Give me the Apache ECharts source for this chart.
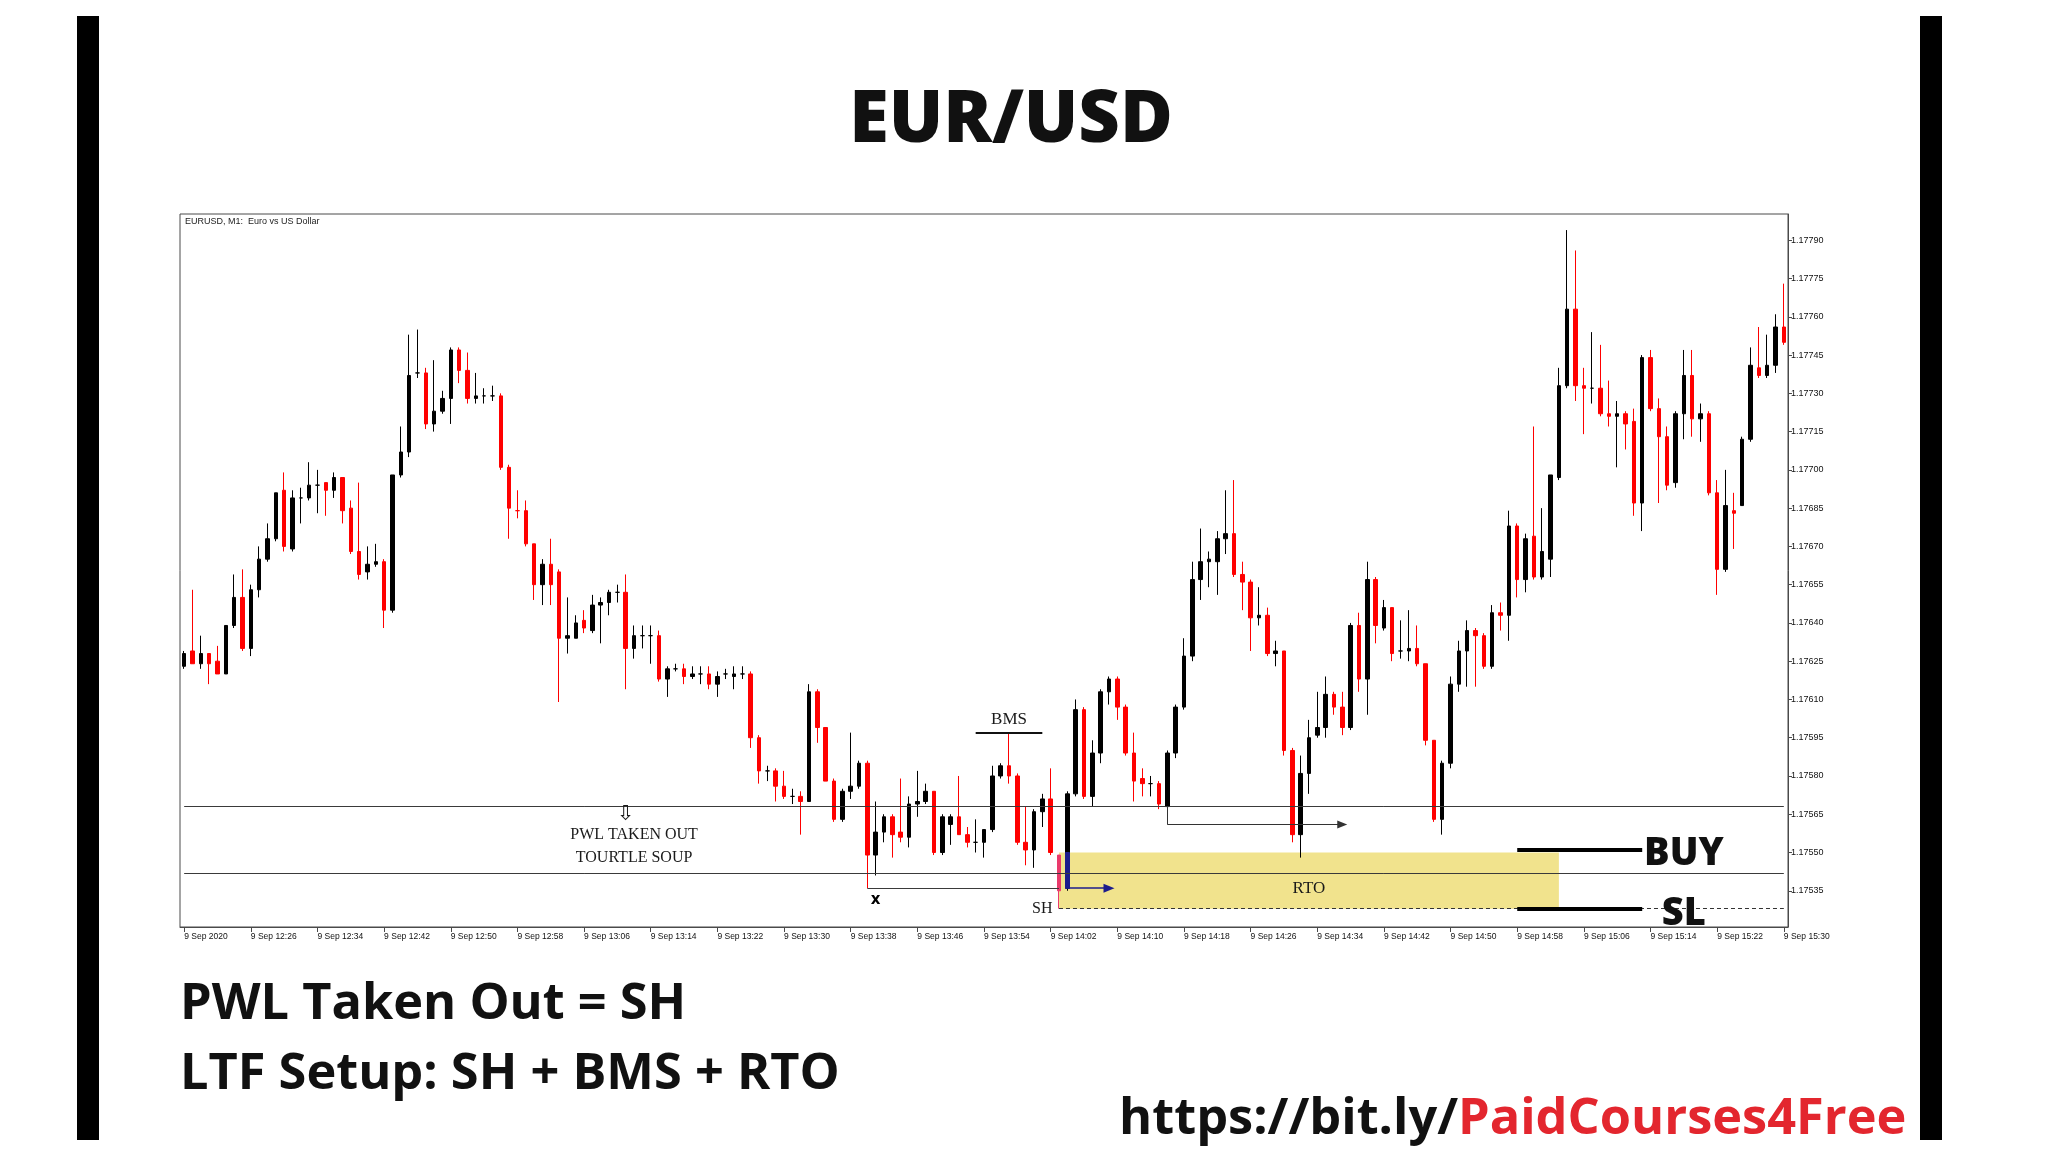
<!DOCTYPE html>
<html><head><meta charset="utf-8">
<script src="https://cdn.jsdelivr.net/npm/echarts@6/dist/echarts.min.js"></script>
<style>html,body{margin:0;padding:0;background:#fff}#c{width:2048px;height:1152px}</style>
</head><body><div id="c"></div>
<script>
// ---- categories: one-minute bars, 9 Sep 2020 12:18 .. 15:30
const times = [];
for (let m = 12 * 60 + 18; m <= 15 * 60 + 30; m++) {
  times.push(String(Math.floor(m / 60)).padStart(2, '0') + ':' + String(m % 60).padStart(2, '0'));
}
const xTickLabels = ['9 Sep 2020','9 Sep 12:26','9 Sep 12:34','9 Sep 12:42','9 Sep 12:50','9 Sep 12:58','9 Sep 13:06','9 Sep 13:14','9 Sep 13:22','9 Sep 13:30','9 Sep 13:38','9 Sep 13:46','9 Sep 13:54','9 Sep 14:02','9 Sep 14:10','9 Sep 14:18','9 Sep 14:26','9 Sep 14:34','9 Sep 14:42','9 Sep 14:50','9 Sep 14:58','9 Sep 15:06','9 Sep 15:14','9 Sep 15:22','9 Sep 15:30'];
const yTicks = [1.17535,1.17550,1.17565,1.17580,1.17595,1.17610,1.17625,1.17640,1.17655,1.17670,1.17685,1.17700,1.17715,1.17730,1.17745,1.17760,1.17775,1.17790];

const opens = [1.17623,1.17629,1.17624,1.17628,1.17625,1.17620,1.17639,1.17650,1.17630,1.17653,
1.17665,1.17673,1.17692,1.17669,1.17689,1.17689,1.17694,1.17695,1.17692,1.17697,
1.17685,1.17668,1.17660,1.17663,1.17664,1.17645,1.17698,1.17707,1.17738,1.17738,
1.17718,1.17723,1.17728,1.17747,1.17739,1.17728,1.17729,1.17729,1.17729,1.17701,
1.17684,1.17684,1.17671,1.17655,1.17663,1.17660,1.17634,1.17634,1.17641,1.17637,
1.17647,1.17648,1.17652,1.17652,1.17630,1.17635,1.17635,1.17635,1.17618,1.17622,
1.17622,1.17619,1.17620,1.17620,1.17616,1.17620,1.17619,1.17620,1.17620,1.17595,
1.17582,1.17582,1.17576,1.17572,1.17572,1.17570,1.17613,1.17599,1.17578,1.17563,
1.17574,1.17576,1.17585,1.17549,1.17558,1.17564,1.17558,1.17556,1.17569,1.17570,
1.17574,1.17550,1.17561,1.17564,1.17557,1.17554,1.17554,1.17559,1.17580,1.17584,
1.17580,1.17554,1.17551,1.17566,1.17571,1.17549,1.17536,1.17573,1.17606,1.17572,
1.17589,1.17613,1.17618,1.17607,1.17589,1.17579,1.17577,1.17577,1.17568,1.17589,
1.17607,1.17627,1.17657,1.17664,1.17664,1.17673,1.17675,1.17659,1.17656,1.17642,
1.17643,1.17628,1.17629,1.17590,1.17557,1.17581,1.17596,1.17599,1.17612,1.17607,
1.17599,1.17639,1.17618,1.17657,1.17638,1.17646,1.17629,1.17629,1.17630,1.17624,
1.17594,1.17563,1.17585,1.17616,1.17629,1.17637,1.17635,1.17623,1.17644,1.17643,
1.17678,1.17657,1.17674,1.17658,1.17665,1.17697,1.17733,1.17763,1.17733,1.17732,
1.17732,1.17722,1.17721,1.17722,1.17719,1.17687,1.17744,1.17724,1.17713,1.17695,
1.17722,1.17737,1.17720,1.17722,1.17691,1.17661,1.17684,1.17686,1.17712,1.17740,
1.17737,1.17741,1.17756];
const closes = [1.17628,1.17624,1.17628,1.17624,1.17620,1.17639,1.17650,1.17630,1.17653,1.17665,
1.17673,1.17691,1.17670,1.17689,1.17689,1.17694,1.17694,1.17692,1.17697,1.17684,
1.17668,1.17659,1.17663,1.17664,1.17645,1.17698,1.17707,1.17737,1.17738,1.17718,
1.17723,1.17728,1.17747,1.17739,1.17728,1.17729,1.17729,1.17729,1.17701,1.17685,
1.17684,1.17671,1.17655,1.17663,1.17655,1.17634,1.17635,1.17640,1.17638,1.17647,
1.17648,1.17652,1.17652,1.17630,1.17635,1.17635,1.17635,1.17618,1.17622,1.17622,
1.17619,1.17620,1.17620,1.17616,1.17619,1.17620,1.17620,1.17620,1.17595,1.17582,
1.17582,1.17576,1.17572,1.17572,1.17570,1.17613,1.17599,1.17578,1.17563,1.17574,
1.17576,1.17585,1.17549,1.17558,1.17564,1.17557,1.17556,1.17569,1.17570,1.17574,
1.17550,1.17564,1.17564,1.17557,1.17554,1.17554,1.17559,1.17580,1.17584,1.17580,
1.17554,1.17551,1.17566,1.17571,1.17550,1.17535,1.17573,1.17606,1.17572,1.17589,
1.17613,1.17618,1.17607,1.17589,1.17578,1.17577,1.17577,1.17569,1.17589,1.17607,
1.17627,1.17657,1.17664,1.17665,1.17673,1.17675,1.17659,1.17656,1.17642,1.17643,
1.17628,1.17629,1.17590,1.17557,1.17581,1.17595,1.17599,1.17612,1.17607,1.17599,
1.17639,1.17618,1.17657,1.17639,1.17646,1.17628,1.17629,1.17630,1.17624,1.17594,
1.17563,1.17585,1.17616,1.17629,1.17637,1.17635,1.17623,1.17644,1.17643,1.17678,
1.17657,1.17673,1.17658,1.17668,1.17698,1.17733,1.17763,1.17733,1.17732,1.17732,
1.17722,1.17721,1.17722,1.17718,1.17687,1.17744,1.17724,1.17713,1.17694,1.17722,
1.17737,1.17720,1.17722,1.17691,1.17661,1.17686,1.17683,1.17712,1.17741,1.17737,
1.17741,1.17756,1.17750];
const lows = [1.17622,1.17624,1.17622,1.17616,1.17620,1.17620,1.17638,1.17629,1.17627,1.17650,
1.17664,1.17672,1.17668,1.17668,1.17679,1.17688,1.17683,1.17682,1.17689,1.17679,
1.17667,1.17657,1.17657,1.17662,1.17638,1.17644,1.17697,1.17705,1.17736,1.17716,
1.17715,1.17722,1.17718,1.17734,1.17726,1.17726,1.17726,1.17727,1.17700,1.17673,
1.17681,1.17670,1.17649,1.17647,1.17647,1.17609,1.17628,1.17634,1.17636,1.17636,
1.17632,1.17643,1.17648,1.17614,1.17626,1.17630,1.17624,1.17617,1.17611,1.17621,
1.17616,1.17618,1.17616,1.17614,1.17611,1.17618,1.17614,1.17618,1.17591,1.17577,
1.17578,1.17570,1.17571,1.17569,1.17557,1.17570,1.17593,1.17578,1.17562,1.17562,
1.17571,1.17575,1.17536,1.17541,1.17554,1.17548,1.17554,1.17552,1.17564,1.17569,
1.17549,1.17549,1.17553,1.17557,1.17552,1.17550,1.17548,1.17558,1.17579,1.17577,
1.17553,1.17545,1.17544,1.17560,1.17549,1.17528,1.17535,1.17572,1.17571,1.17568,
1.17585,1.17608,1.17602,1.17588,1.17570,1.17572,1.17572,1.17567,1.17567,1.17587,
1.17606,1.17625,1.17649,1.17654,1.17651,1.17667,1.17658,1.17645,1.17629,1.17639,
1.17627,1.17623,1.17588,1.17554,1.17548,1.17573,1.17595,1.17595,1.17604,1.17596,
1.17598,1.17613,1.17604,1.17632,1.17637,1.17625,1.17626,1.17625,1.17623,1.17592,
1.17562,1.17557,1.17583,1.17613,1.17615,1.17615,1.17622,1.17622,1.17637,1.17633,
1.17650,1.17652,1.17657,1.17657,1.17658,1.17696,1.17732,1.17727,1.17714,1.17726,
1.17721,1.17717,1.17701,1.17708,1.17682,1.17676,1.17723,1.17687,1.17692,1.17693,
1.17712,1.17713,1.17711,1.17690,1.17651,1.17660,1.17669,1.17686,1.17711,1.17736,
1.17736,1.17738,1.17749];
const highs = [1.17629,1.17653,1.17635,1.17628,1.17631,1.17639,1.17659,1.17661,1.17655,1.17670,
1.17679,1.17691,1.17699,1.17692,1.17693,1.17703,1.17700,1.17695,1.17699,1.17697,
1.17688,1.17695,1.17670,1.17671,1.17665,1.17698,1.17717,1.17753,1.17755,1.17740,
1.17743,1.17731,1.17748,1.17748,1.17746,1.17738,1.17732,1.17733,1.17730,1.17702,
1.17692,1.17688,1.17671,1.17665,1.17673,1.17661,1.17650,1.17643,1.17645,1.17651,
1.17650,1.17653,1.17655,1.17659,1.17639,1.17639,1.17639,1.17637,1.17623,1.17624,
1.17624,1.17623,1.17623,1.17623,1.17621,1.17622,1.17623,1.17623,1.17621,1.17596,
1.17584,1.17583,1.17582,1.17575,1.17574,1.17616,1.17614,1.17599,1.17579,1.17575,
1.17597,1.17586,1.17586,1.17570,1.17565,1.17565,1.17579,1.17572,1.17582,1.17577,
1.17574,1.17565,1.17565,1.17580,1.17560,1.17563,1.17559,1.17584,1.17585,1.17597,
1.17581,1.17568,1.17567,1.17573,1.17583,1.17549,1.17574,1.17610,1.17607,1.17594,
1.17614,1.17619,1.17619,1.17608,1.17597,1.17583,1.17580,1.17578,1.17590,1.17608,
1.17634,1.17664,1.17677,1.17668,1.17676,1.17692,1.17696,1.17664,1.17657,1.17654,
1.17646,1.17633,1.17629,1.17591,1.17588,1.17602,1.17613,1.17619,1.17613,1.17613,
1.17640,1.17644,1.17664,1.17658,1.17649,1.17646,1.17641,1.17645,1.17639,1.17624,
1.17594,1.17586,1.17619,1.17633,1.17641,1.17638,1.17636,1.17647,1.17648,1.17684,
1.17679,1.17675,1.17717,1.17685,1.17698,1.17740,1.17794,1.17786,1.17740,1.17754,
1.17749,1.17735,1.17727,1.17723,1.17724,1.17745,1.17747,1.17728,1.17717,1.17723,
1.17747,1.17747,1.17726,1.17723,1.17696,1.17700,1.17691,1.17713,1.17748,1.17756,
1.17753,1.17761,1.17773];

// ---- annotation levels (prices) and bar indices
const yMin = 1.175208, yMax = 1.178003;
const pwlUpper = 1.17568, pwlLower = 1.17542;
const sweepIndex = 82, sweepLevel = 1.17536;
const shIndex = 105, shLow = 1.17528;
const rtoIndex = 106, rtoTop = 1.17550, rtoBottom = 1.17528, rtoEndIndex = 165;
const bmsLevel = 1.17597, bmsFrom = 95, bmsTo = 103;
const arrowFrom = 118, arrowTo = 139, arrowLevel = 1.17561;
const blueArrowTo = 111;
const buyLevel = 1.17551, slLevel = 1.17528, levelFrom = 160, levelTo = 175;
const lastIndex = times.length - 1;

const candleData = times.map((t, i) => {
  const v = [opens[i], closes[i], lows[i], highs[i]];
  if (i === shIndex) return { value: v, itemStyle: { color0: '#ea3a6c', borderColor0: '#ea3a6c' } };
  return v;
});
const blueData = times.map((t, i) => i === rtoIndex ? [opens[i], rtoTop, opens[i], rtoTop] : ['-', '-', '-', '-']);

const serif = 'Liberation Serif';
function txt(idx, val, text, style) {
  return { coord: [idx, val], symbol: 'circle', symbolSize: 1, itemStyle: { color: 'rgba(0,0,0,0)' },
    label: Object.assign({ show: true, position: 'inside', formatter: text, color: '#1a1a1a', fontFamily: serif, fontSize: 16 }, style || {}) };
}
const none = 'none';
const bigFont = 'bold 50.5px "Open Sans"';

const chart = echarts.init(document.getElementById('c'), null, { renderer: 'canvas' });
chart.setOption({
  animation: false,
  backgroundColor: '#ffffff',
  grid: { left: 180, right: 260, top: 214, bottom: 225, show: true, borderColor: '#4a4a4a', borderWidth: 1, backgroundColor: 'transparent' },
  xAxis: {
    type: 'category', data: times, boundaryGap: true,
    axisLine: { show: true, lineStyle: { color: '#4a4a4a', width: 1 } },
    axisTick: { show: true, interval: 7, alignWithLabel: true, length: 5, lineStyle: { color: '#4a4a4a' } },
    axisLabel: { interval: 7, align: 'left', margin: 5, fontFamily: 'Liberation Sans', fontSize: 8.5, color: '#111',
      formatter: (v, i) => (i % 8 === 0 ? xTickLabels[i / 8] : '') },
    splitLine: { show: false }
  },
  yAxis: {
    type: 'value', position: 'right', min: yMin, max: yMax,
    axisLine: { show: true, lineStyle: { color: '#4a4a4a', width: 1 } },
    axisTick: { show: true, customValues: yTicks, length: 4, lineStyle: { color: '#4a4a4a' } },
    axisLabel: { customValues: yTicks, formatter: v => Number(v).toFixed(5), fontFamily: 'Liberation Sans', fontSize: 9, color: '#111', margin: 3 },
    splitLine: { show: false }
  },
  graphic: [
    { type: 'rect', shape: { x: 77, y: 16, width: 22, height: 1124 }, style: { fill: '#000' } },
    { type: 'rect', shape: { x: 1920, y: 16, width: 22, height: 1124 }, style: { fill: '#000' } },
    { type: 'text', x: 1011, y: 121, style: { text: 'EUR/USD', font: '800 72px "Open Sans"', fill: '#111', textAlign: 'center', textVerticalAlign: 'middle' } },
    { type: 'text', x: 185, y: 222, style: { text: 'EURUSD, M1:  Euro vs US Dollar', font: '9px "Liberation Sans"', fill: '#222', textAlign: 'left', textVerticalAlign: 'middle' } },
    { type: 'text', x: 180, y: 1005, style: { text: 'PWL Taken Out = SH', font: bigFont, fill: '#111', textAlign: 'left', textVerticalAlign: 'middle' } },
    { type: 'text', x: 180, y: 1075, style: { text: 'LTF Setup: SH + BMS + RTO', font: bigFont, fill: '#111', textAlign: 'left', textVerticalAlign: 'middle' } },
    { type: 'text', x: 1458, y: 1120, style: { text: 'https://bit.ly/', font: bigFont, fill: '#111', textAlign: 'right', textVerticalAlign: 'middle' } },
    { type: 'text', x: 1458, y: 1120, style: { text: 'PaidCourses4Free', font: bigFont, fill: '#e3262e', textAlign: 'left', textVerticalAlign: 'middle' } }
  ],
  series: [
    {
      type: 'line', data: [], z: 1, silent: true,
      markArea: { silent: true, itemStyle: { color: '#f1e38d' },
        data: [[{ coord: [shIndex, rtoTop] }, { coord: [rtoEndIndex, rtoBottom] }]] },
      markLine: {
        silent: true, symbol: [none, none], label: { show: false },
        lineStyle: { color: '#3a3a3a', width: 1, type: 'solid' },
        data: [
          [{ coord: [0, pwlUpper] }, { coord: [lastIndex, pwlUpper] }],
          [{ coord: [0, pwlLower] }, { coord: [lastIndex, pwlLower] }],
          [{ coord: [sweepIndex, sweepLevel] }, { coord: [shIndex, sweepLevel] }],
          [{ coord: [shIndex, shLow], lineStyle: { type: [4, 3], color: '#333' } }, { coord: [lastIndex, shLow] }]
        ]
      }
    },
    {
      type: 'candlestick', data: candleData, z: 2, barWidth: 4,
      itemStyle: { color: '#000000', color0: '#ff0000', borderColor: '#000000', borderColor0: '#ff0000', borderWidth: 1 }
    },
    {
      type: 'candlestick', data: blueData, z: 3, barWidth: 4,
      itemStyle: { color: '#1c1c8c', color0: '#1c1c8c', borderColor: '#1c1c8c', borderColor0: '#1c1c8c', borderWidth: 1 }
    },
    {
      type: 'line', data: [], z: 5, silent: true,
      markLine: {
        silent: true, symbol: [none, none], label: { show: false },
        lineStyle: { color: '#111', width: 1, type: 'solid' },
        data: [
          [{ coord: [rtoIndex, sweepLevel], symbol: none, lineStyle: { color: '#1c1c8c', width: 1.5 } }, { coord: [blueArrowTo, sweepLevel], symbol: 'triangle', symbolSize: [9, 11] }],
          [{ coord: [arrowFrom, pwlUpper], symbol: none, lineStyle: { color: '#333', width: 1 } }, { coord: [arrowFrom, arrowLevel], symbol: none }],
          [{ coord: [arrowFrom, arrowLevel], symbol: none, lineStyle: { color: '#333', width: 1 } }, { coord: [arrowTo, arrowLevel], symbol: 'triangle', symbolSize: [8, 10] }],
          [{ coord: [bmsFrom, bmsLevel], lineStyle: { color: '#111', width: 2 } }, { coord: [bmsTo, bmsLevel] }],
          [{ coord: [levelFrom, buyLevel], lineStyle: { color: '#000', width: 4 } }, { coord: [levelTo, buyLevel] }],
          [{ coord: [levelFrom, slLevel], lineStyle: { color: '#000', width: 4 } }, { coord: [levelTo, slLevel] }]
        ]
      },
      markPoint: {
        silent: true,
        data: [
          txt(53, 1.17565, '⇩', { fontFamily: 'DejaVu Sans', fontSize: 21 }),
          txt(54, 1.17557, 'PWL TAKEN OUT'),
          txt(54, 1.17548, 'TOURTLE SOUP'),
          txt(99, 1.17602, 'BMS', { fontSize: 17 }),
          txt(83, 1.175315, 'x', { fontFamily: 'DejaVu Sans', fontWeight: 'bold', fontSize: 15, color: '#000' }),
          txt(103, 1.17528, 'SH', { fontSize: 16 }),
          txt(135, 1.17536, 'RTO', { fontSize: 17 }),
          txt(180, 1.175495, 'BUY', { fontFamily: 'Open Sans', fontWeight: 800, fontSize: 38, color: '#111' }),
          txt(180, 1.17526, 'SL', { fontFamily: 'Open Sans', fontWeight: 800, fontSize: 38, color: '#111' })
        ]
      }
    }
  ]
});
</script>
</body></html>
